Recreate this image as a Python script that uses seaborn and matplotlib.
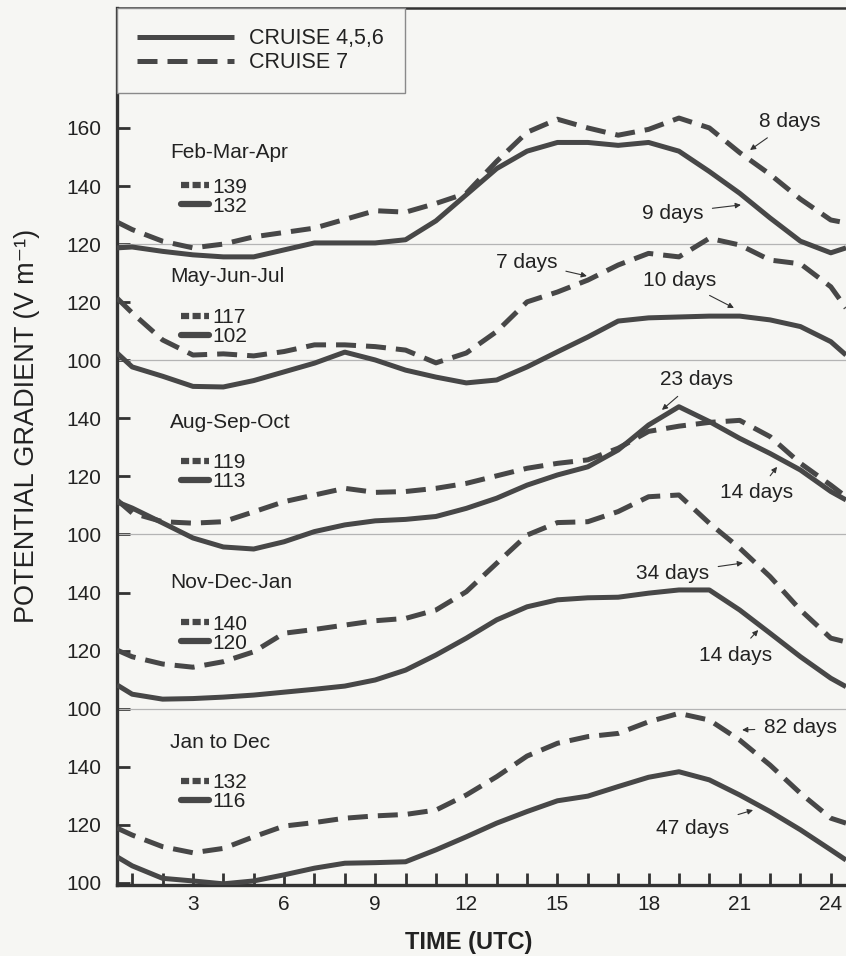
import seaborn as sns
import matplotlib.pyplot as plt
from matplotlib.lines import Line2D

sns.set_style('ticks')
plt.rcParams['font.family'] = ['Liberation Sans', 'DejaVu Sans']

# hours (UTC) at which the curves were read
hours = [0.5, 1, 2, 3, 4, 5, 6, 7, 8, 9, 10, 11, 12,
         13, 14, 15, 16, 17, 18, 19, 20, 21, 22, 23, 24, 24.5]

seasons = ['Feb-Mar-Apr', 'May-Jun-Jul', 'Aug-Sep-Oct', 'Nov-Dec-Jan', 'Jan to Dec']
mean_c7 = [139, 117, 119, 140, 132]
mean_c456 = [132, 102, 113, 120, 116]

# CRUISE 4,5,6 (solid)
fma_456 = [118.7, 119, 117.5, 116.3, 115.6, 115.6, 118, 120.4, 120.4, 120.4, 121.5, 128, 137,
           146, 152, 155, 155, 154, 155, 152, 145, 137.5, 129, 121, 117, 118.7]
mjj_456 = [102.5, 97.7, 94.5, 91, 90.8, 93, 96, 99, 102.8, 100.1, 96.6, 94.2, 92.2,
           93.2, 97.7, 102.9, 108, 113.5, 114.6, 114.9, 115.2, 115.2, 113.9, 111.6, 106.4, 101.8]
aso_456 = [111.2, 109.1, 104, 98.8, 95.7, 95, 97.5, 101, 103.3, 104.7, 105.2, 106.2, 109,
           112.5, 117, 120.5, 123.3, 129.1, 137.7, 144, 138.9, 133.1, 127.9, 122.2, 114.8, 111.9]
ndj_456 = [108.2, 105, 103.3, 103.5, 104, 104.7, 105.7, 106.7, 107.8, 109.9, 113.3, 118.5, 124.3,
           130.6, 135.1, 137.5, 138.2, 138.4, 139.8, 140.9, 140.9, 134, 126, 117.9, 110.5, 107.6]
year_456 = [109, 105.9, 101.6, 100.7, 99.7, 100.7, 102.8, 105.1, 106.8, 107, 107.3, 111.4, 115.9,
            120.6, 124.6, 128.3, 129.9, 133.2, 136.4, 138.3, 135.5, 130.3, 124.6, 118.3, 111.4, 107.9]

# CRUISE 7 (dashed)
fma_7 = [127.6, 125, 121, 118.7, 120, 122.5, 124, 125.5, 128.5, 131.5, 131, 134, 137.5,
         148.5, 158.5, 163, 160, 157.5, 159.5, 163.4, 160, 151.5, 144, 135.5, 128.3, 127.3]
mjj_7 = [121.4, 116.3, 107, 101.8, 102.2, 101.5, 103, 105.3, 105.3, 104.7, 103.5, 99.1, 102.5,
         109.9, 120.1, 123.5, 127.6, 132.8, 136.8, 135.6, 142, 139.7, 134.5, 133.2, 125.3, 118]
aso_7 = [111.9, 107.4, 104.4, 103.9, 104.4, 107.8, 111.3, 113.6, 115.9, 114.5, 114.8, 115.9, 117.6,
         120.2, 122.8, 124.5, 125.7, 129.7, 135.5, 137.3, 138.6, 139.3, 133.7, 124.5, 117, 113]
ndj_7 = [120.2, 117.9, 115.4, 114.3, 116.2, 119.6, 126, 127.3, 128.8, 130.3, 131.1, 134, 140.3,
         150.1, 159.8, 164.1, 164.4, 167.9, 173, 173.6, 163.9, 155.3, 145.5, 134, 124.3, 123]
year_7 = [118.9, 116.5, 112.5, 110.4, 111.9, 115.9, 119.6, 120.8, 122.3, 123.1, 123.6, 125.1, 130.3,
          136.6, 143.7, 148.1, 150.4, 151.5, 155.5, 158.4, 156.1, 149.2, 140.6, 130.9, 122.3, 120.6]

solid_series = [fma_456, mjj_456, aso_456, ndj_456, year_456]
dashed_series = [fma_7, mjj_7, aso_7, ndj_7, year_7]

# y tick labels of each stacked panel
panel_ticks = [[160, 140, 120], [120, 100], [140, 120, 100], [140, 120, 100], [140, 120, 100]]
day_labels = ['8 days', '9 days', '7 days', '10 days', '23 days',
              '14 days', '34 days', '14 days', '82 days', '47 days']

# ---- layout ----
offsets = [100, 80, 20, -40, -100]          # vertical shift of each panel
title_u = [251.7, 208.7, 158.7, 103.6, 48.5]
keys_u = [246.5, 201.5, 151.5, 96.0, 41.3]
key_x = 2.25
day_text = [(22.66, 262.1), (18.80, 230.7), (13.98, 213.8), (19.03, 207.6), (19.59, 173.2),
            (21.57, 134.3), (18.80, 106.7), (20.85, 78.5), (22.99, 53.4), (19.46, 18.9)]
day_tip = [(21.34, 252.4), (21.04, 233.5), (15.97, 209.0), (20.81, 198.0), (18.44, 162.9),
           (22.23, 143.3), (21.11, 110.2), (21.61, 87.1), (21.08, 52.7), (21.44, 25.1)]

ink = '#474747'
bg = '#f6f6f3'
lw = 3.6
dash = (0, (4.0, 2.0))
fs = 15

fig = plt.figure(figsize=(8.46, 9.56), dpi=100, facecolor=bg)
ax = fig.add_axes([117 / 846, 71 / 956, 1 - 117 / 846, 877 / 956])
ax.set_facecolor(bg)

for i in range(5):
    off = offsets[i]
    if i < 4:
        ax.axhline(panel_ticks[i][-1] + off, color='#b4b4b4', lw=0.9, zorder=1)
    sns.lineplot(x=hours, y=[v + off for v in solid_series[i]], ax=ax, color=ink, lw=lw,
                 solid_joinstyle='round', solid_capstyle='butt', zorder=3,
                 label='CRUISE 4,5,6' if i == 0 else None, legend=False)
    sns.lineplot(x=hours, y=[v + off for v in dashed_series[i]], ax=ax, color=ink, lw=lw,
                 linestyle=dash, zorder=3,
                 label='CRUISE 7' if i == 0 else None, legend=False)
    ax.text(key_x, title_u[i], seasons[i], fontsize=fs, ha='left', va='center', color='#222')
    keys = [Line2D([], [], color=ink, lw=4.5, ls=(0, (1.3, 0.55))),
            Line2D([], [], color=ink, lw=4.5)]
    leg = ax.legend(keys, [str(mean_c7[i]), str(mean_c456[i])], loc='upper left',
                    bbox_to_anchor=(key_x, keys_u[i]), bbox_transform=ax.transData,
                    frameon=False, borderpad=0, handlelength=1.35, handletextpad=0.2,
                    labelspacing=0.0, fontsize=fs, labelcolor='#222')
    ax.add_artist(leg)

for txt, xy, xyt in zip(day_labels, day_tip, day_text):
    ax.annotate(txt, xy=xy, xytext=xyt, fontsize=fs, color='#222', ha='center', va='center',
                arrowprops=dict(arrowstyle='-|>', color='#333', lw=0.8, mutation_scale=8,
                                shrinkA=4, shrinkB=0))

yt, yl = [], []
for i in range(5):
    for t in panel_ticks[i]:
        yt.append(t + offsets[i])
        yl.append(str(t))
ax.set_yticks(yt, yl)
xt = list(range(1, 25))
ax.set_xticks(xt, [str(h) if h % 3 == 0 else '' for h in xt])
ax.set_xlim(0.5, 24.5)
ax.set_ylim(-0.7, 301.3)
ax.tick_params(axis='both', direction='in', length=9, width=2, color='#333',
               labelsize=fs, labelcolor='#222')
ax.tick_params(axis='x', pad=7)
ax.tick_params(axis='y', pad=11)

for s in ['left', 'bottom']:
    ax.spines[s].set_linewidth(2.4)
    ax.spines[s].set_color('#333')
ax.spines['top'].set_linewidth(1.8)
ax.spines['top'].set_color('#333')
ax.spines['right'].set_visible(False)

ax.set_ylabel('POTENTIAL GRADIENT (V m⁻¹)', fontsize=19.5, color='#222')
ax.yaxis.set_label_coords(-0.105, 0.523)
ax.set_xlabel('TIME (UTC)', fontsize=17, fontweight='bold', color='#222')
ax.xaxis.set_label_coords(0.483, -0.052)

lg = ax.legend(loc='upper left', bbox_to_anchor=(0, 1), borderaxespad=0, fontsize=15.5,
               handlelength=4.5, handletextpad=0.7, borderpad=0.95, labelspacing=0.12,
               fancybox=False, edgecolor='#8a8a8a', framealpha=1, facecolor=bg)
lg.get_frame().set_linewidth(1.0)
for t in lg.get_texts():
    t.set_color('#222')

plt.savefig('out.png', dpi=100, facecolor=bg)
plt.close()
